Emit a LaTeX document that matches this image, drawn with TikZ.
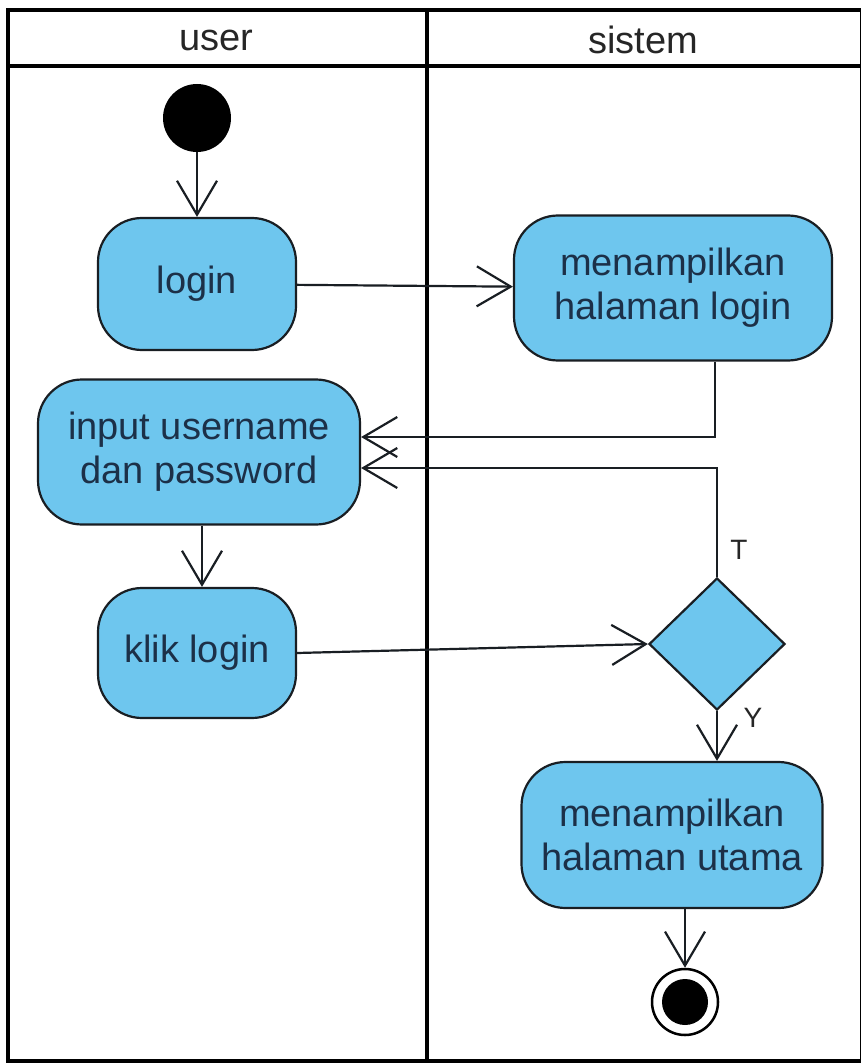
\documentclass[tikz,border=0pt]{standalone}
\usepackage{fontspec}
\setmainfont{Liberation Sans}
\usetikzlibrary{arrows.meta,shapes.geometric,positioning}
\definecolor{actfill}{RGB}{110,198,238}
\definecolor{acttext}{RGB}{28,48,72}
\definecolor{edge}{RGB}{25,30,35}
\tikzset{
  act/.style={draw=edge, line width=2.2pt, fill=actfill, rounded corners=44pt,
    text=acttext, align=center, font=\fontsize{38}{44}\selectfont, inner sep=0pt},
  flow/.style={draw=edge, line width=2.2pt,
    -{Straight Barb[length=34pt,width=40pt,line width=2.2pt]}},
  lane/.style={line width=4.5pt, draw=black},
  lanetitle/.style={font=\fontsize{38}{40}\selectfont, text=black!85},
  guard/.style={font=\fontsize{28}{32}\selectfont, text=black!85}
}
\begin{document}
\begin{tikzpicture}[x=1pt,y=-1pt]
\useasboundingbox (0,0) rectangle (860,1064);
\fill[white] (0,0) rectangle (860,1064);

% swimlane frame
\draw[lane] (8,10) rectangle (862,1061);
\draw[lane] (8,66) -- (862,66);
\draw[lane] (427,10) -- (427,1061);
\node[lanetitle] (lu) at (216,40) {user};
\node[lanetitle] (ls) at (643,40) {sistem};

% initial node
\node[circle, fill=black, minimum size=68pt, inner sep=0pt] (start) at (197,118) {};

% activities
\node[act, minimum width=198pt, minimum height=132pt] (login) at (197,284) {login};
\node[act, minimum width=318pt, minimum height=145pt] (showlogin) at (673,288) {menampilkan\\halaman login};
\node[act, minimum width=322pt, minimum height=145pt] (input) at (199,452) {input username\\dan password};
\node[act, minimum width=198pt, minimum height=130pt] (klik) at (197,653) {klik login};
\node[diamond, draw=edge, line width=2.2pt, fill=actfill, minimum width=136pt,
      minimum height=132pt, inner sep=0pt, aspect=1] (dec) at (717,644) {};
\node[act, minimum width=301pt, minimum height=146pt] (home) at (672,835) {menampilkan\\halaman utama};

% final node
\node[circle, draw=black, line width=2.5pt, fill=white, minimum size=66pt, inner sep=0pt] (stop) at (685,1002) {};
\node[circle, fill=black, minimum size=46pt, inner sep=0pt] (stopdot) at (stop) {};

% control flows
\draw[flow] ([xshift=42pt]showlogin.south) |- ([yshift=15pt]input.east);
\draw[flow] (dec.north) |- ([yshift=-16pt]input.east);
\draw[flow] (start) -- (login);
\draw[flow] (login) -- (showlogin);
\draw[flow] ([xshift=5pt]klik.north |- input.south) -- ([xshift=5pt]klik.north);
\draw[flow] (klik.east) -- (dec.west);
\draw[flow] (dec.south) -- (home.north -| dec.south);
\draw[flow] (home.south -| stop.north) -- (stop.north);

% guards
\node[guard] (gt) at (739,550) {T};
\node[guard] (gy) at (753,718) {Y};
\end{tikzpicture}
\end{document}
